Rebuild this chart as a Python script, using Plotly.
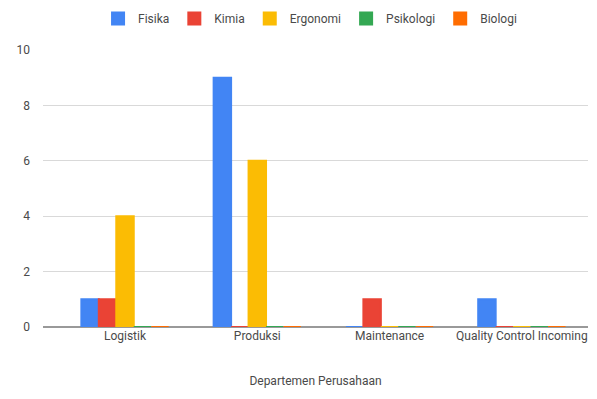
import plotly.graph_objects as go

departments = ["Logistik", "Produksi", "Maintenance", "Quality Control Incoming"]
fisika = [1, 9, 0, 1]
kimia = [1, 0, 1, 0]
ergonomi = [4, 6, 0, 0]
psikologi = [0, 0, 0, 0]
biologi = [0, 0, 0, 0]

series = [
    ("Fisika", fisika, "#4285F4"),
    ("Kimia", kimia, "#EA4335"),
    ("Ergonomi", ergonomi, "#FBBC04"),
    ("Psikologi", psikologi, "#34A853"),
    ("Biologi", biologi, "#FF6D01"),
]

fig = go.Figure()
for name, vals, color in series:
    fig.add_trace(go.Bar(
        x=departments, y=vals, name=name,
        marker=dict(color=color, line=dict(color=color, width=2)),
        offsetgroup=name,
    ))

text_color = "#4a4a4a"
fig.update_layout(
    width=597, height=399,
    margin=dict(l=43, r=9, t=50, b=72),
    paper_bgcolor="white", plot_bgcolor="white",
    font=dict(family="Roboto, Arial, sans-serif", size=12, color=text_color),
    barmode="group", bargap=0.34, bargroupgap=0,
    legend=dict(orientation="h", x=0.49, xanchor="center", y=0.99, yanchor="top",
                yref="container", font=dict(size=12, color=text_color),
                itemwidth=30),
    xaxis=dict(
        range=[-0.62, 3.5], showgrid=False, ticks="", showline=False,
        title=dict(text="Departemen Perusahaan", font=dict(size=12, color=text_color), standoff=34),
        tickfont=dict(size=12, color=text_color),
    ),
    yaxis=dict(
        range=[0, 10], dtick=2, showgrid=True, gridcolor="#d9d9d9", gridwidth=1,
        zeroline=True, zerolinecolor="#999999", zerolinewidth=1.5,
        ticks="", ticklabelstandoff=12, tickfont=dict(size=12, color=text_color),
    ),
)

fig.write_html("out.html")
